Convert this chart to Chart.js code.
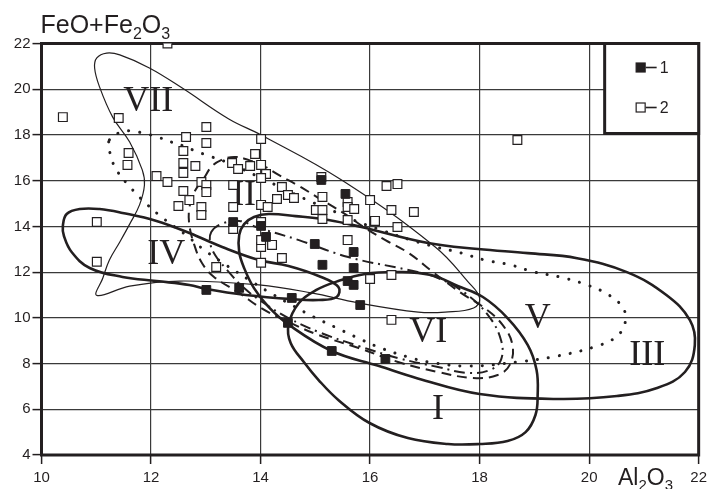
<!DOCTYPE html>
<html>
<head>
<meta charset="utf-8">
<script src="https://cdn.jsdelivr.net/npm/chart.js@4"></script>
<style>
  html, body { margin: 0; padding: 0; background: #fff; }
</style>
</head>
<body>
<canvas id="chart" width="712" height="489"></canvas>
<script>
const xTicks = [10, 12, 14, 16, 18, 20, 22];
const yTicks = [4, 6, 8, 10, 12, 14, 16, 18, 20, 22];

// group 1 (filled squares), [Al2O3, FeO+Fe2O3]
const group1 = [
  [13.01, 11.22], [13.61, 11.31], [13.50, 14.19], [14.01, 14.02], [14.10, 13.54],
  [14.57, 10.87], [14.50, 9.78], [14.99, 13.23], [15.11, 16.03], [15.55, 15.42],
  [15.70, 12.88], [15.13, 12.32], [15.70, 12.18], [15.59, 11.61], [15.70, 11.44],
  [15.82, 10.56], [15.30, 8.55], [16.28, 8.20]
];

// group 2 (open squares)
const group2 = [
  [10.39, 18.78], [12.30, 22.0], [11.41, 18.74], [13.01, 18.35], [12.64, 17.91],
  [13.01, 17.65], [12.59, 17.30], [11.59, 17.21], [11.57, 16.69], [12.59, 16.77],
  [12.81, 16.64], [12.59, 16.34], [12.10, 16.20], [12.30, 15.94], [14.01, 17.82],
  [13.90, 17.17], [13.48, 16.77], [13.59, 16.51], [13.81, 16.64], [14.01, 16.69],
  [14.10, 16.29], [14.01, 16.12], [12.92, 15.94], [13.01, 15.81], [13.01, 15.50],
  [12.59, 15.55], [13.50, 15.81], [12.70, 15.15], [12.50, 14.89], [12.92, 14.85],
  [12.92, 14.50], [13.50, 14.85], [14.01, 14.94], [11.01, 14.19], [11.01, 12.45],
  [13.50, 13.89], [14.01, 13.10], [14.01, 12.41], [13.19, 12.22], [14.39, 15.72],
  [14.50, 15.37], [14.61, 15.24], [14.30, 15.20], [14.13, 14.85], [15.11, 16.16],
  [15.13, 15.29], [15.01, 14.72], [15.13, 14.72], [15.13, 14.32], [15.59, 15.07],
  [15.59, 14.85], [15.71, 14.76], [15.59, 14.28], [15.59, 13.40], [16.30, 15.77],
  [16.50, 15.85], [16.00, 15.15], [16.39, 14.72], [16.80, 14.63], [16.09, 14.24],
  [16.50, 13.97], [14.21, 13.19], [14.39, 12.62], [16.39, 11.87], [16.00, 11.70],
  [18.69, 17.78], [16.39, 9.91], [14.01, 13.40], [14.01, 14.19]
];

// field outlines (closed curves)
const field1 = [
  [14.51, 9.69], [14.55, 8.90], [14.79, 8.07], [15.06, 7.28], [15.42, 6.41], [15.99, 5.40],
  [16.69, 4.74], [17.42, 4.48], [18.00, 4.48], [18.51, 4.61], [18.84, 5.00], [19.02, 5.75],
  [19.06, 6.62], [19.04, 7.72], [18.88, 8.81], [18.51, 9.99], [18.06, 10.91], [17.60, 11.39],
  [17.11, 11.87], [16.51, 12.00], [15.91, 11.92], [15.42, 11.61], [15.02, 11.22], [14.70, 10.65]
];
const field2 = [
  [12.97, 16.12], [13.10, 16.60], [13.28, 16.90], [13.52, 17.04], [13.79, 16.90], [14.06, 16.64],
  [14.33, 16.25], [14.70, 15.77], [15.06, 15.24], [15.51, 14.59], [15.91, 13.93], [16.28, 13.40],
  [16.70, 12.84], [17.15, 12.00], [17.66, 11.09], [18.09, 10.43], [18.42, 9.69], [18.60, 8.81],
  [18.55, 7.94], [18.33, 7.50], [17.88, 7.37], [17.24, 7.63], [16.51, 8.07], [15.79, 8.68],
  [15.06, 9.25], [14.51, 9.82], [14.01, 10.43], [13.61, 11.09], [13.15, 11.79], [12.93, 12.40],
  [12.79, 13.19], [12.70, 14.06], [12.70, 14.80], [12.79, 15.50]
];
const field3 = [
  [13.61, 13.62], [13.70, 14.10], [13.88, 14.41], [14.15, 14.54], [14.64, 14.45], [15.24, 14.28],
  [15.84, 13.97], [17.06, 13.27], [17.97, 13.01], [18.88, 12.83], [19.78, 12.61], [20.69, 12.00],
  [21.41, 11.00], [21.84, 9.90], [21.93, 8.81], [21.75, 7.63], [21.24, 6.93], [20.51, 6.58],
  [19.42, 6.45], [18.00, 6.67], [16.87, 7.35], [16.15, 7.90], [15.30, 8.55], [14.52, 9.69],
  [14.15, 10.47], [13.88, 11.30], [13.70, 12.18], [13.61, 12.88]
];
const field4 = [
  [10.39, 14.02], [10.46, 14.54], [10.70, 14.76], [11.06, 14.76], [11.48, 14.59], [12.10, 14.24],
  [12.70, 13.71], [13.30, 13.10], [13.97, 12.53], [14.51, 12.27], [15.06, 11.83], [15.42, 11.35],
  [15.39, 10.91], [15.06, 10.78], [14.57, 10.82], [13.73, 11.00], [13.01, 11.26], [12.70, 11.44],
  [12.10, 11.61], [11.48, 11.79], [10.88, 12.18], [10.55, 12.88], [10.41, 13.58]
];
const field5 = [
  [11.24, 17.78], [11.46, 18.13], [11.66, 18.17], [11.92, 18.04], [12.12, 17.91], [12.37, 17.69],
  [12.59, 17.52], [12.81, 17.30], [13.01, 17.12], [13.42, 16.77], [14.28, 15.81], [14.93, 15.07],
  [15.37, 14.63], [15.79, 14.19], [16.20, 13.84], [16.75, 13.40], [17.20, 13.10], [17.66, 12.84],
  [18.09, 12.53], [18.57, 12.31], [19.00, 12.00], [19.46, 11.79], [19.96, 11.44], [20.36, 11.00],
  [20.62, 10.43], [20.66, 9.82], [20.51, 9.20], [20.15, 8.77], [19.42, 8.33], [18.69, 8.07],
  [17.79, 7.89], [17.06, 8.07], [16.69, 8.29], [16.24, 8.64], [15.82, 9.07], [15.39, 9.56],
  [14.97, 10.04], [14.57, 10.56], [14.15, 11.13], [13.79, 11.66], [13.57, 12.00], [13.37, 12.31],
  [12.97, 12.97], [12.64, 13.62], [12.24, 14.32], [11.90, 15.02], [11.57, 15.85], [11.37, 16.47],
  [11.26, 17.12]
];
const field6 = [
  [13.10, 13.75], [13.28, 14.10], [13.61, 14.24], [13.92, 13.97], [14.70, 13.40], [15.60, 12.66],
  [16.70, 12.09], [17.24, 11.74], [17.73, 11.09], [18.15, 10.13], [18.39, 9.03], [18.39, 8.16],
  [18.19, 7.72], [17.79, 7.59], [17.24, 7.85], [16.51, 8.24], [15.79, 8.77], [15.06, 9.38],
  [14.51, 9.99], [14.06, 10.65], [13.70, 11.30], [13.39, 12.09], [13.17, 12.75], [13.08, 13.27]
];
const field7 = [
  [11.19, 21.58], [11.43, 21.50], [11.97, 20.93], [12.57, 20.05], [13.42, 18.70], [14.01, 18.00],
  [15.48, 16.03], [17.19, 13.10], [17.79, 11.57], [18.00, 10.87], [17.89, 10.43], [17.37, 10.25],
  [16.88, 10.25], [15.79, 10.65], [14.93, 11.09], [13.97, 11.44], [12.52, 11.61], [11.61, 11.39],
  [11.01, 10.98], [11.12, 11.74], [11.24, 12.53], [11.43, 13.32], [11.61, 14.10], [11.79, 14.94],
  [11.88, 15.81], [11.84, 16.47], [11.61, 17.69], [11.30, 18.78], [11.06, 20.10], [10.97, 20.93],
  [11.01, 21.37]
];

const fieldNames = ['I', 'II', 'III', 'IV', 'V', 'VI', 'VII'];
const fieldLabelAt = [
  [17.24, 5.97], [13.70, 15.37], [21.06, 8.37], [12.28, 12.75],
  [19.06, 9.99], [17.06, 9.35], [11.95, 19.48]
];
const legendNames = ['1', '2'];

const ink = '#231f20';
const sans = '"Liberation Sans", Arial, sans-serif';
const toXY = arr => arr.map(p => ({ x: p[0], y: p[1] }));

function outline(data, width, dash, cap) {
  return {
    data: toXY(data),
    closed: true,
    showLine: true,
    pointRadius: 0,
    pointHoverRadius: 0,
    borderColor: ink,
    borderWidth: width,
    borderDash: dash || [],
    borderCapStyle: cap || 'butt',
    tension: 0.4,
    fill: false
  };
}

// draw the outlines as closed smooth loops
const closeLoops = {
  id: 'closeLoops',
  afterDatasetsUpdate(chart) {
    chart.data.datasets.forEach((ds, i) => {
      const line = chart.getDatasetMeta(i).dataset;
      if (!ds.closed || !line) return;
      line._loop = true;
      line._fullLoop = true;
      line._pointsUpdated = false;
      delete line._segments;
      delete line._path;
    });
  }
};

function chemText(ctx, parts, x, y, size) {
  parts.forEach(([t, sub]) => {
    ctx.font = (sub ? Math.round(size * 0.64) : size) + 'px ' + sans;
    ctx.fillText(t, x, y + (sub ? size * 0.22 : 0));
    x += ctx.measureText(t).width;
  });
}

const decor = {
  id: 'decor',
  beforeDatasetsDraw(chart) {
    const { ctx, chartArea: a, scales: { x, y } } = chart;
    ctx.save();
    ctx.strokeStyle = ink;
    ctx.lineWidth = 3;
    ctx.strokeRect(a.left, a.top, a.right - a.left, a.bottom - a.top);

    ctx.fillStyle = ink;
    ctx.font = '36px "Liberation Serif", "Times New Roman", serif';
    ctx.textAlign = 'center';
    ctx.textBaseline = 'middle';
    fieldNames.forEach((n, i) => {
      ctx.fillText(n, x.getPixelForValue(fieldLabelAt[i][0]), y.getPixelForValue(fieldLabelAt[i][1]));
    });
    ctx.restore();
  },
  afterDatasetsDraw(chart) {
    const { ctx, chartArea: a } = chart;
    const w = 94, h = 90;
    const left = a.right - w, top = a.top;
    ctx.save();
    ctx.fillStyle = '#fff';
    ctx.fillRect(left, top, w, h);
    ctx.strokeStyle = ink;
    ctx.lineWidth = 3;
    ctx.strokeRect(left, top, w, h);

    ctx.font = '16px ' + sans;
    ctx.textBaseline = 'middle';
    legendNames.forEach((n, i) => {
      const cy = top + 24 + i * 40;
      const cx = left + 36;
      ctx.lineWidth = 1.2;
      ctx.fillStyle = i === 0 ? ink : '#fff';
      ctx.fillRect(cx - 4.5, cy - 4.5, 9, 9);
      ctx.strokeRect(cx - 4.5, cy - 4.5, 9, 9);
      ctx.lineWidth = 1.6;
      ctx.beginPath();
      ctx.moveTo(cx + 5, cy);
      ctx.lineTo(cx + 16, cy);
      ctx.stroke();
      ctx.fillStyle = ink;
      ctx.fillText(n, cx + 19, cy + 1);
    });
    ctx.restore();
  },
  afterDraw(chart) {
    const { ctx, chartArea: a } = chart;
    ctx.save();
    ctx.fillStyle = ink;
    ctx.textBaseline = 'alphabetic';
    ctx.textAlign = 'left';
    chemText(ctx, [['FeO+Fe', 0], ['2', 1], ['O', 0], ['3', 1]], a.left - 1, 33, 25);
    chemText(ctx, [['Al', 0], ['2', 1], ['O', 0], ['3', 1]], 618, 485, 23);
    ctx.restore();
  }
};

new Chart(document.getElementById('chart'), {
  type: 'scatter',
  data: {
    datasets: [
      { data: toXY(group1), pointStyle: 'rect', pointRadius: 6.2, pointHoverRadius: 6.2,
        backgroundColor: ink, borderColor: ink, borderWidth: 1 },
      { data: toXY(group2), pointStyle: 'rect', pointRadius: 6.2, pointHoverRadius: 6.2,
        backgroundColor: '#fff', borderColor: ink, borderWidth: 1.2 },
      outline(field1, 2.6),
      outline(field3, 2.6),
      outline(field4, 2.6),
      outline(field7, 1.2),
      outline(field2, 2, [10, 6]),
      outline(field6, 2, [11, 5, 2, 5]),
      outline(field5, 3, [0.1, 11], 'round')
    ]
  },
  options: {
    responsive: false,
    animation: false,
    devicePixelRatio: 1,
    layout: { padding: { top: 43.5, right: 10, left: 0, bottom: 0 } },
    plugins: { legend: { display: false }, tooltip: { enabled: false } },
    scales: {
      x: {
        type: 'linear',
        min: xTicks[0],
        max: xTicks[xTicks.length - 1],
        afterBuildTicks: s => { s.ticks = xTicks.map(v => ({ value: v })); },
        afterFit: s => { s.height = 34; },
        ticks: { color: ink, font: { family: sans, size: 15 }, padding: 5, maxRotation: 0 },
        grid: { color: '#3a3a3a', lineWidth: 1.2, tickLength: 9, tickColor: ink, tickWidth: 1.5 },
        border: { display: false }
      },
      y: {
        type: 'linear',
        min: yTicks[0],
        max: yTicks[yTicks.length - 1],
        afterBuildTicks: s => { s.ticks = yTicks.map(v => ({ value: v })); },
        afterFit: s => { s.width = 41.5; },
        ticks: { color: ink, font: { family: sans, size: 15 }, padding: 2 },
        grid: { color: '#3a3a3a', lineWidth: 1.2, tickLength: 9, tickColor: ink, tickWidth: 1.5 },
        border: { display: false }
      }
    }
  },
  plugins: [closeLoops, decor]
});
</script>
</body>
</html>
